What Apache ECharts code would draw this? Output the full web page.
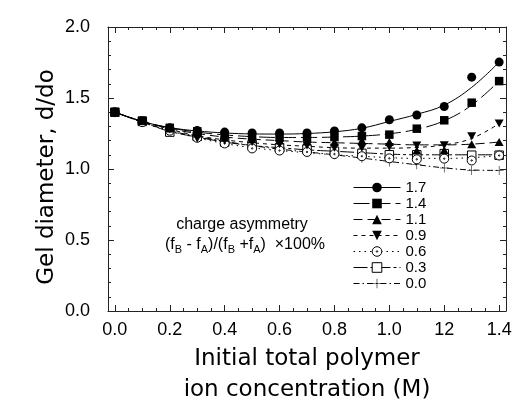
<!DOCTYPE html>
<html lang="en">
<head>
<meta charset="UTF-8">
<title>Gel diameter</title>
<script src="https://cdn.jsdelivr.net/npm/echarts@6/dist/echarts.min.js"></script>
<style>
html,body{margin:0;padding:0;background:#fff;}
#chartBox{width:513px;height:402px;}
</style>
</head>
<body>
<div id="chartBox"></div>
<script>
// concentration (M)
const conc = [0.0, 0.1, 0.2, 0.3, 0.4, 0.5, 0.6, 0.7, 0.8, 0.9, 1.0, 1.1, 1.2, 1.3, 1.4];

// measured points, d/do
const pts17 = [1.40, 1.34, 1.29, 1.272, 1.26, 1.254, 1.254, 1.254, 1.268, 1.29, 1.347, 1.38, 1.44, 1.647, 1.753];
const pts14 = [1.40, 1.34, 1.29, 1.265, 1.237, 1.225, 1.222, 1.222, 1.225, 1.232, 1.242, 1.284, 1.343, 1.467, 1.619];
const pts11 = [1.40, 1.34, 1.285, 1.25, 1.22, 1.21, 1.20, 1.195, 1.19, 1.20, 1.19, 1.13, 1.132, 1.175, 1.19];
const pts09 = [1.40, 1.34, 1.28, 1.215, 1.20, 1.19, 1.175, 1.165, 1.15, 1.15, 1.155, 1.165, 1.167, 1.23, 1.32];
const pts06 = [1.40, 1.33, 1.27, 1.22, 1.18, 1.145, 1.13, 1.12, 1.105, 1.09, 1.075, 1.068, 1.073, 1.06, 1.095];
const pts03 = [1.40, 1.335, 1.26, 1.23, 1.19, 1.17, 1.15, 1.14, 1.125, 1.11, 1.10, 1.10, 1.108, 1.097, 1.097];
const pts00 = [1.40, 1.33, 1.27, 1.23, 1.195, 1.165, 1.14, 1.12, 1.10, 1.075, 1.05, 1.03, 1.007, 0.99, 0.99];

// fitted curves
const fit17 = [1.40, 1.335, 1.292, 1.268, 1.254, 1.247, 1.246, 1.25, 1.262, 1.287, 1.335, 1.385, 1.45, 1.575, 1.753];
const fit14 = [1.40, 1.335, 1.29, 1.26, 1.24, 1.228, 1.222, 1.222, 1.225, 1.232, 1.248, 1.28, 1.34, 1.45, 1.62];
const fit11 = [1.40, 1.335, 1.285, 1.25, 1.225, 1.21, 1.20, 1.19, 1.185, 1.18, 1.175, 1.17, 1.17, 1.175, 1.19];
const fit09 = [1.40, 1.335, 1.28, 1.235, 1.205, 1.185, 1.17, 1.16, 1.15, 1.147, 1.147, 1.152, 1.17, 1.215, 1.32];
const fit06 = [1.40, 1.33, 1.27, 1.22, 1.18, 1.15, 1.13, 1.115, 1.10, 1.09, 1.08, 1.075, 1.075, 1.08, 1.095];
const fit03 = [1.40, 1.33, 1.265, 1.225, 1.19, 1.165, 1.15, 1.135, 1.125, 1.115, 1.105, 1.10, 1.10, 1.10, 1.10];
const fit00 = [1.40, 1.33, 1.27, 1.23, 1.195, 1.165, 1.14, 1.12, 1.10, 1.077, 1.053, 1.03, 1.008, 0.993, 0.99];

// ticks
const xTickValues = [0, 0.2, 0.4, 0.6, 0.8, 1.0, 1.2, 1.4];
const xTickLabels = ['0.0', '0.2', '0.4', '0.6', '0.8', '1.0', '12', '1.4'];
const xMinorValues = [0.05, 0.1, 0.15, 0.25, 0.3, 0.35, 0.45, 0.5, 0.55, 0.65, 0.7, 0.75, 0.85, 0.9, 0.95, 1.05, 1.1, 1.15, 1.25, 1.3, 1.35];
const yTickValues = [0, 0.5, 1.0, 1.5, 2.0];
const yTickLabels = ['0.0', '0.5', '1.0', '1.5', '2.0'];
const yMinorValues = [0.1, 0.2, 0.3, 0.4, 0.6, 0.7, 0.8, 0.9, 1.1, 1.2, 1.3, 1.4, 1.6, 1.7, 1.8, 1.9];

const SANS = '"Liberation Sans", Arial, sans-serif';
const WIDE = '"DejaVu Sans", sans-serif';

const TRI_DOWN = 'path://M-5,-4L5,-4L0,5Z';
const CIRCLE_DOT = 'path://M0,-10A10,10 0 1,1 0,10A10,10 0 1,1 0,-10ZM0,-1.5A1.5,1.5 0 1,1 0,1.5A1.5,1.5 0 1,1 0,-1.5Z';
const PLUS = 'path://M-0.6,-10L0.6,-10L0.6,-0.6L10,-0.6L10,0.6L0.6,0.6L0.6,10L-0.6,10L-0.6,0.6L-10,0.6L-10,-0.6L-0.6,-0.6Z';

const groups = [
    {name: '1.7', pts: pts17, fit: fit17, symbol: 'circle', size: 9, fill: '#000', border: 0, dash: 'solid'},
    {name: '1.4', pts: pts14, fit: fit14, symbol: 'rect', size: 8.5, fill: '#000', border: 0, dash: [16, 5]},
    {name: '1.1', pts: pts11, fit: fit11, symbol: 'triangle', size: [9, 8], fill: '#000', border: 0, dash: [9, 5]},
    {name: '0.9', pts: pts09, fit: fit09, symbol: TRI_DOWN, size: [9, 8], fill: '#000', border: 0, dash: [4, 4]},
    {name: '0.6', pts: pts06, fit: fit06, symbol: CIRCLE_DOT, size: 9, fill: '#fff', border: 1, dash: [1.5, 4]},
    {name: '0.3', pts: pts03, fit: fit03, symbol: 'rect', size: 8.5, fill: '#fff', border: 1, dash: [14, 3, 3, 3]},
    {name: '0.0', pts: pts00, fit: fit00, symbol: PLUS, size: 9, fill: '#000', border: 0, dash: [6, 3, 1.5, 3]}
];

function pairs(vals) {
    return conc.map((x, i) => [x, vals[i]]);
}

function labelFor(values, labels) {
    return function (v) {
        for (let i = 0; i < values.length; i++) {
            if (Math.abs(values[i] - v) < 1e-6) return labels[i];
        }
        return '';
    };
}

let series = [];
groups.forEach(g => {
    series.push({
        type: 'line',
        name: g.name,
        smooth: 0.4,
        showSymbol: false,
        symbol: g.symbol,
        symbolSize: g.size,
        silent: true,
        z: 2,
        lineStyle: {color: '#000', width: 1, type: g.dash},
        itemStyle: {color: g.fill, borderColor: '#000', borderWidth: g.border},
        data: pairs(g.fit)
    });
});
groups.slice().reverse().forEach(g => {
    series.push({
        type: 'scatter',
        name: g.name + ' pts',
        symbol: g.symbol,
        symbolSize: g.size,
        silent: true,
        z: 3,
        itemStyle: {color: g.fill, borderColor: '#000', borderWidth: g.border, opacity: 1},
        data: pairs(g.pts)
    });
});

function xAxisDef(pos, ticks, len, withLine, withLabel) {
    return {
        type: 'value', position: pos, min: -0.025, max: 1.425,
        axisLine: {show: withLine, onZero: false, lineStyle: {color: '#222', width: 1}},
        axisTick: {show: true, inside: true, length: len, customValues: ticks, lineStyle: {color: '#222', width: 1}},
        axisLabel: withLabel ? {
            show: true, customValues: xTickValues, margin: 10,
            formatter: labelFor(xTickValues, xTickLabels),
            fontFamily: SANS, fontSize: 18, color: '#000'
        } : {show: false},
        splitLine: {show: false}
    };
}

function yAxisDef(pos, ticks, len, withLine, withLabel) {
    return {
        type: 'value', position: pos, min: 0, max: 2,
        axisLine: {show: withLine, onZero: false, lineStyle: {color: '#222', width: 1}},
        axisTick: {show: true, inside: true, length: len, customValues: ticks, lineStyle: {color: '#222', width: 1}},
        axisLabel: withLabel ? {
            show: true, customValues: yTickValues, margin: 18,
            formatter: labelFor(yTickValues, yTickLabels),
            fontFamily: SANS, fontSize: 18, color: '#000'
        } : {show: false},
        splitLine: {show: false}
    };
}

let xAxes = [
    xAxisDef('bottom', xTickValues, 6, true, true),
    xAxisDef('bottom', xMinorValues, 3, false, false),
    xAxisDef('top', xTickValues, 6, true, false),
    xAxisDef('top', xMinorValues, 3, false, false)
];
xAxes[0].name = 'Initial total polymer\nion concentration (M)';
xAxes[0].nameLocation = 'middle';
xAxes[0].nameGap = 30;
xAxes[0].nameTextStyle = {fontFamily: WIDE, fontSize: 23, lineHeight: 31, color: '#000'};

let yAxes = [
    yAxisDef('left', yTickValues, 6, true, true),
    yAxisDef('left', yMinorValues, 3, false, false),
    yAxisDef('right', yTickValues, 6, true, false),
    yAxisDef('right', yMinorValues, 3, false, false)
];

let option = {
    backgroundColor: '#fff',
    animation: false,
    grid: {left: 108, right: 7, top: 27, bottom: 91, containLabel: false, outerBoundsMode: 'none'},
    xAxis: xAxes,
    yAxis: yAxes,
    legend: {
        orient: 'vertical',
        left: 353,
        top: 180,
        padding: 0,
        itemWidth: 47,
        itemHeight: 12,
        itemGap: 1,
        selectedMode: false,
        textStyle: {fontFamily: SANS, fontSize: 15, lineHeight: 14, color: '#000'},
        data: groups.map(g => ({
            name: g.name,
            itemStyle: {color: g.fill, borderColor: '#000', borderWidth: g.border},
            lineStyle: {color: '#000', width: 1, type: g.dash}
        }))
    },
    graphic: [
        {
            type: 'text', x: 47, y: 177, rotation: Math.PI / 2, silent: true,
            style: {text: 'Gel diameter, d/do', fontFamily: WIDE, fontSize: 23, fill: '#000', align: 'center', verticalAlign: 'middle'}
        },
        {
            type: 'text', x: 242, y: 225, silent: true,
            style: {text: 'charge asymmetry', fontFamily: SANS, fontSize: 16, fill: '#000', align: 'center', verticalAlign: 'middle'}
        },
        {
            type: 'text', x: 245, y: 245, silent: true,
            style: {
                text: '{m|(f}{s|B}{m| - f}{s|A}{m|)/(f}{s|B}{m| +f}{s|A}{m|)  \u00d7100%}',
                align: 'center', verticalAlign: 'middle',
                rich: {
                    m: {fontFamily: SANS, fontSize: 16, fill: '#000'},
                    s: {fontFamily: SANS, fontSize: 11, fill: '#000', padding: [10, 0, 0, 0]}
                }
            }
        }
    ],
    series: series
};

let chartObj = echarts.init(document.getElementById('chartBox'));
chartObj.setOption(option);
</script>
</body>
</html>
